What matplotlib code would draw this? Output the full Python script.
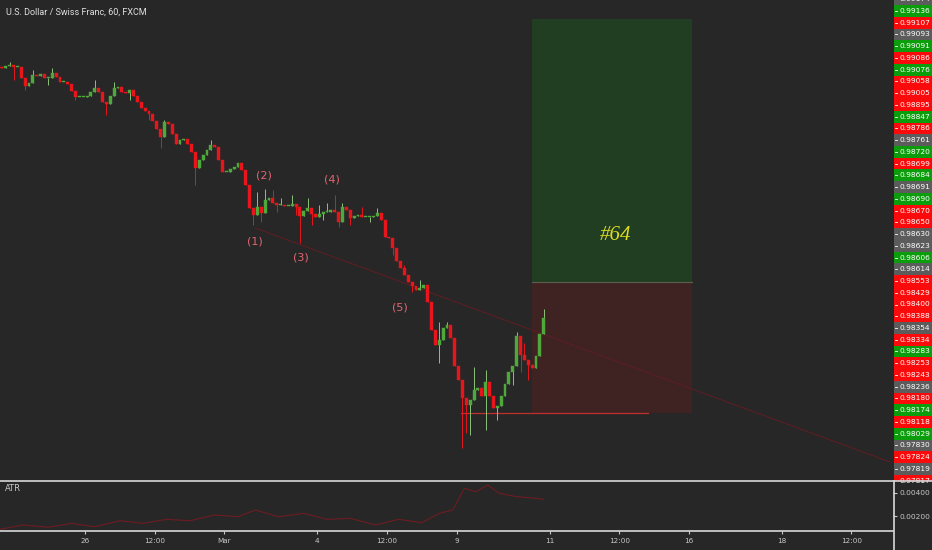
import matplotlib
matplotlib.use("Agg")
import matplotlib.pyplot as plt
from matplotlib.patches import Rectangle

W, H = 932, 550
BG = '#272727'
UP = '#4fa83c'
DOWN = '#e8161c'

# two-hour candles (close of each candle)
closes = [
    0.99228, 0.99236, 0.99240, 0.99232, 0.99232, 0.99188, 0.99156, 0.99168, 0.99200, 0.99196,
    0.99204, 0.99188, 0.99188, 0.99208, 0.99192, 0.99172, 0.99172, 0.99164, 0.99136, 0.99112,
    0.99112, 0.99112, 0.99116, 0.99132, 0.99148, 0.99132, 0.99092, 0.99084, 0.99116, 0.99148,
    0.99152, 0.99132, 0.99128, 0.99140, 0.99116, 0.99092, 0.99068, 0.99056, 0.99044, 0.99016,
    0.98984, 0.98952, 0.99012, 0.99004, 0.98964, 0.98924, 0.98940, 0.98944, 0.98924, 0.98892,
    0.98828, 0.98860, 0.98880, 0.98900, 0.98920, 0.98912, 0.98860, 0.98812, 0.98812, 0.98824,
    0.98832, 0.98848, 0.98820, 0.98760, 0.98668, 0.98640, 0.98672, 0.98648, 0.98700, 0.98708,
    0.98688, 0.98680, 0.98680, 0.98676, 0.98676, 0.98684, 0.98672, 0.98636, 0.98656, 0.98668,
    0.98644, 0.98632, 0.98644, 0.98652, 0.98652, 0.98660, 0.98652, 0.98612, 0.98672, 0.98660,
    0.98628, 0.98636, 0.98640, 0.98632, 0.98632, 0.98632, 0.98636, 0.98648, 0.98620, 0.98552,
    0.98548, 0.98508, 0.98456, 0.98428, 0.98400, 0.98372, 0.98356, 0.98340, 0.98348, 0.98360,
    0.98292, 0.98180, 0.98120, 0.98140, 0.98188, 0.98200, 0.98148, 0.98036, 0.97980, 0.97908,
    0.97880, 0.97900, 0.97940, 0.97948, 0.97916, 0.97972, 0.97916, 0.97868, 0.97876, 0.97916,
    0.97964, 0.98012, 0.98036, 0.98156, 0.98080, 0.98060, 0.98040, 0.98028, 0.98076, 0.98164,
    0.98228,
]
first_open = 0.99232

# wicks that stick out of the bodies (candle number -> price)
high_spikes = {2: 0.99252, 8: 0.99220, 13: 0.99228, 24: 0.99180, 29: 0.99172, 42: 0.99020,
               54: 0.98940, 64: 0.98728, 66: 0.98732, 68: 0.98744, 70: 0.98740, 72: 0.98708,
               75: 0.98720, 79: 0.98708, 82: 0.98680, 84: 0.98688, 86: 0.98720, 88: 0.98688,
               93: 0.98672, 97: 0.98668, 104: 0.98440, 108: 0.98380, 113: 0.98212,
               115: 0.98212, 118: 0.98020, 122: 0.98032, 125: 0.98020, 133: 0.98172,
               135: 0.98128, 140: 0.98264}
low_spikes = {3: 0.99180, 6: 0.99140, 12: 0.99160, 19: 0.99100, 27: 0.99040, 33: 0.99100,
              38: 0.99020, 41: 0.98908, 50: 0.98760, 65: 0.98600, 67: 0.98612, 71: 0.98652,
              76: 0.98640, 77: 0.98528, 80: 0.98600, 83: 0.98620, 87: 0.98592, 90: 0.98600,
              95: 0.98612, 101: 0.98480, 106: 0.98332, 113: 0.98048, 119: 0.97708,
              120: 0.97768, 121: 0.97760, 125: 0.97780, 128: 0.97820, 132: 0.97960,
              134: 0.98012, 136: 0.97980}

atr_bars = [0, 12, 25, 37, 49, 62, 74, 86, 98, 111, 123, 132, 144, 157, 169, 181, 194, 206,
            218, 227, 234, 240, 246, 252, 258, 267, 277, 281]
atr_vals = [0.00084, 0.00122, 0.00102, 0.00136, 0.00107, 0.00159, 0.00136, 0.00171, 0.00159,
            0.00209, 0.00194, 0.00252, 0.00194, 0.00223, 0.00171, 0.00180, 0.00122, 0.00171,
            0.00142, 0.00223, 0.00252, 0.00441, 0.00411, 0.00470, 0.00397, 0.00368, 0.00354,
            0.00345]

date_ticks = [44, 80, 116, 164, 200, 236, 284, 320, 356, 404, 440]
date_labels = ['26', '12:00', 'Mar', '4', '12:00', '9', '11', '12:00', '16', '18', '12:00']

price_labels = ['0.99174', '0.99136', '0.99107', '0.99093', '0.99091', '0.99086', '0.99076',
                '0.99058', '0.99005', '0.98895', '0.98847', '0.98786', '0.98761', '0.98720',
                '0.98699', '0.98684', '0.98691', '0.98690', '0.98670', '0.98650', '0.98630',
                '0.98623', '0.98606', '0.98614', '0.98553', '0.98429', '0.98400', '0.98388',
                '0.98354', '0.98334', '0.98283', '0.98253', '0.98243', '0.98236', '0.98180',
                '0.98174', '0.98118', '0.98029', '0.97830', '0.97824', '0.97819', '0.97817']
label_kinds = 'ngrngrgrrrgrngrgngrrnngnrrrrnrgrrnrgrgnrnr'
kind_colors = {'g': '#0b9d0b', 'r': '#fa0a0a', 'n': '#5c5c5c'}

waves = [('(1)', 131.8, 0.98532), ('(2)', 136.4, 0.98796), ('(3)', 155.6, 0.98468),
         ('(4)', 171.6, 0.98780), ('(5)', 206.7, 0.98268)]

# position tool
entry, target, stop = 0.98372, 0.99424, 0.97848
box_x0, box_x1 = 275, 357.6

fig = plt.figure(figsize=(W / 100, H / 100), dpi=100, facecolor=BG)
ax = fig.add_axes([0, 1 - 481 / H, 893 / W, 481 / H])
atr_ax = fig.add_axes([0, 1 - 531 / H, 893 / W, 50 / H], sharex=ax)
pax = fig.add_axes([893 / W, 1 - 481 / H, 39 / W, 481 / H])

for a in (ax, atr_ax, pax):
    a.set_facecolor(BG)
    for s in a.spines.values():
        s.set_visible(False)

ax.set_xlim(0, 461.5)
ax.set_ylim(0.97576, 0.99500)
ax.tick_params(left=False, bottom=False, labelleft=False, labelbottom=False)

# position boxes
ax.add_patch(Rectangle((box_x0, entry), box_x1 - box_x0, target - entry,
                       facecolor='#213d22', edgecolor='none', zorder=1))
ax.add_patch(Rectangle((box_x0, stop), box_x1 - box_x0, entry - stop,
                       facecolor='#3f2323', edgecolor='none', zorder=1))
ax.plot([box_x0, box_x1], [entry, entry], color='#5e5e50', lw=0.8, zorder=2)
ax.plot([238, 335], [stop, stop], color='#c0302e', lw=0.9, zorder=2)

# trend line through the lows
ax.plot([131.8, 460], [0.98588, 0.97652], color='#5a1e24', lw=0.8, zorder=2)

opens = [first_open] + closes[:-1]
for k, (o, c) in enumerate(zip(opens, closes)):
    x = 2 * k + 1
    col = UP if c >= o else DOWN
    hi = high_spikes.get(k, max(o, c))
    lo = low_spikes.get(k, min(o, c))
    ax.vlines(x, lo, hi, color='#8cc27a' if c >= o else DOWN, lw=0.7, zorder=3)
    ax.bar(x, max(abs(c - o), 0.00003), bottom=min(o, c), width=1.5, color=col,
           edgecolor=col, lw=0.3, zorder=4)

for txt, x, y in waves:
    ax.text(x, y, txt, color='#e26672', fontsize=8, ha='center', va='center', zorder=5)

ax.text(318.3, 0.98556, '#64', color='#dcdc22', fontsize=15, style='italic',
        family='Liberation Serif', ha='center', va='center', zorder=5)

ax.text(3, 0.99450, 'U.S. Dollar / Swiss Franc, 60, FXCM', color='#e0e0e0', fontsize=6.5,
        family='Roboto', ha='left', va='center', zorder=6)

# stacked price labels on the right
pax.set_xlim(0, 39)
pax.set_ylim(481, 0)
pax.set_xticks([])
pax.set_yticks([])
step = 11.74
for i, (lab, kind) in enumerate(zip(price_labels, label_kinds)):
    yc = i * step - 0.74
    pax.add_patch(Rectangle((1, yc - step / 2), 38, step, facecolor=kind_colors[kind],
                            edgecolor='none'))
    pax.plot([1.5, 3.5], [yc, yc], color='white', lw=0.6)
    pax.text(6, yc, lab, color='white', fontsize=5.4, ha='left', va='center')

# ATR pane
atr_ax.plot(atr_bars, atr_vals, color='#6e1c22', lw=0.8)
atr_ax.set_ylim(0.000696, 0.005043)
atr_ax.yaxis.tick_right()
atr_ax.set_yticks([0.002, 0.004])
atr_ax.set_yticklabels(['0.00200', '0.00400'])
atr_ax.tick_params(axis='y', colors='#c8c8c8', labelsize=5.4, length=3, pad=2)
atr_ax.set_xticks(date_ticks)
atr_ax.set_xticklabels(date_labels)
atr_ax.tick_params(axis='x', colors='#c8c8c8', labelsize=5.2, length=2, pad=3)
atr_ax.text(2.6, 0.0044, 'ATR', color='#c8c8c8', fontsize=6, ha='left', va='center')

# pane separators
fig.add_artist(plt.Line2D([0, 1], [1 - 481 / H, 1 - 481 / H], color='#d8d8d8', lw=1.2))
fig.add_artist(plt.Line2D([0, 893 / W], [1 - 531 / H, 1 - 531 / H], color='#d8d8d8', lw=1.2))
fig.add_artist(plt.Line2D([893.5 / W, 893.5 / W], [0, 1 - 481 / H], color='#d8d8d8', lw=1.2))

fig.savefig('out.png', dpi=100, facecolor=BG)
